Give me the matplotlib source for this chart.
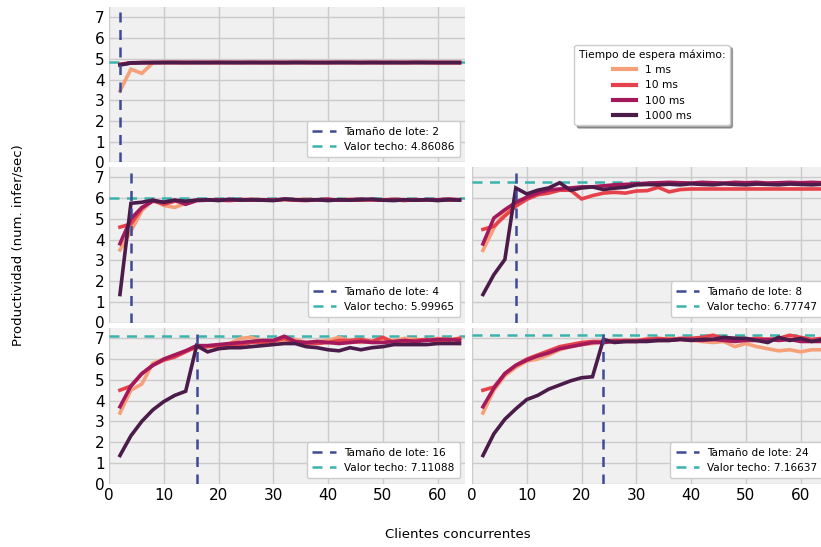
"""Throughput vs concurrent clients for several batch sizes and max wait times."""

import matplotlib

matplotlib.use("Agg")

import matplotlib.pyplot as plt
from matplotlib.lines import Line2D


clients = [2, 4, 6, 8, 10, 12, 14, 16, 18, 20, 22, 24, 26, 28, 30, 32,
           34, 36, 38, 40, 42, 44, 46, 48, 50, 52, 54, 56, 58, 60, 62, 64]

wait_labels = ["1 ms", "10 ms", "100 ms", "1000 ms"]
wait_colors = ["#f6a07a", "#e7424b", "#a3195b", "#4b1b4a"]

batch_sizes = [2, 4, 8, 16, 24]
ceilings = [4.86086, 5.99965, 6.77747, 7.11088, 7.16637]

# batch 2
b2_1ms = [3.45, 4.50, 4.30, 4.80, 4.83, 4.82, 4.83, 4.82, 4.83, 4.82, 4.82, 4.83, 4.82, 4.83, 4.82, 4.82,
          4.83, 4.82, 4.82, 4.83, 4.82, 4.83, 4.82, 4.82, 4.83, 4.82, 4.82, 4.83, 4.82, 4.82, 4.83, 4.82]
b2_10ms = [4.74, 4.81, 4.82, 4.82, 4.83, 4.82, 4.82, 4.83, 4.82, 4.82, 4.83, 4.82, 4.82, 4.82, 4.83, 4.82,
           4.82, 4.83, 4.82, 4.82, 4.82, 4.83, 4.82, 4.82, 4.82, 4.83, 4.82, 4.82, 4.83, 4.82, 4.82, 4.82]
b2_100ms = [4.72, 4.80, 4.82, 4.82, 4.82, 4.83, 4.82, 4.82, 4.82, 4.83, 4.82, 4.82, 4.83, 4.82, 4.82, 4.82,
            4.83, 4.82, 4.82, 4.82, 4.83, 4.82, 4.82, 4.83, 4.82, 4.82, 4.82, 4.83, 4.82, 4.82, 4.82, 4.82]
b2_1000ms = [4.70, 4.80, 4.81, 4.82, 4.82, 4.82, 4.82, 4.82, 4.82, 4.82, 4.82, 4.82, 4.82, 4.82, 4.82, 4.82,
             4.82, 4.82, 4.82, 4.82, 4.82, 4.82, 4.82, 4.82, 4.82, 4.82, 4.82, 4.82, 4.82, 4.82, 4.82, 4.82]

# batch 4
b4_1ms = [3.50, 4.40, 5.40, 5.90, 5.65, 5.55, 5.75, 5.90, 5.92, 5.93, 5.90, 5.92, 5.95, 5.93, 5.90, 5.92,
          5.93, 5.95, 5.92, 5.90, 5.93, 5.95, 5.92, 5.90, 5.93, 5.95, 5.92, 5.93, 5.90, 5.92, 5.95, 5.92]
b4_10ms = [4.60, 4.75, 5.50, 5.90, 5.70, 5.85, 5.80, 5.90, 5.92, 5.90, 5.88, 5.92, 5.93, 5.90, 5.92, 5.93,
           5.90, 5.88, 5.92, 5.95, 5.90, 5.92, 5.90, 5.93, 5.90, 5.92, 5.88, 5.93, 5.90, 5.92, 5.90, 5.92]
b4_100ms = [3.80, 5.00, 5.55, 5.85, 5.80, 5.90, 5.70, 5.88, 5.90, 5.92, 5.90, 5.93, 5.90, 5.92, 5.90, 5.95,
            5.92, 5.90, 5.92, 5.93, 5.90, 5.92, 5.95, 5.92, 5.90, 5.93, 5.92, 5.90, 5.93, 5.92, 5.95, 5.92]
b4_1000ms = [1.35, 5.75, 5.80, 5.90, 5.80, 5.90, 5.85, 5.90, 5.92, 5.88, 5.95, 5.90, 5.92, 5.90, 5.88, 5.95,
             5.92, 5.90, 5.92, 5.88, 5.92, 5.90, 5.92, 5.95, 5.90, 5.88, 5.92, 5.90, 5.92, 5.88, 5.92, 5.90]

# batch 8
b8_1ms = [3.48, 4.55, 5.35, 5.80, 6.04, 6.19, 6.29, 6.39, 6.44, 6.49, 6.54, 6.59, 6.59, 6.62, 6.64, 6.66,
          6.69, 6.69, 6.74, 6.72, 6.74, 6.69, 6.72, 6.74, 6.72, 6.69, 6.74, 6.72, 6.74, 6.72, 6.69, 6.72]
b8_10ms = [4.49, 4.64, 5.14, 5.61, 5.94, 6.16, 6.24, 6.38, 6.38, 5.96, 6.12, 6.24, 6.28, 6.24, 6.34, 6.36,
           6.52, 6.30, 6.41, 6.44, 6.44, 6.44, 6.44, 6.44, 6.44, 6.44, 6.44, 6.44, 6.44, 6.44, 6.44, 6.44]
b8_100ms = [3.79, 5.04, 5.44, 5.79, 6.04, 6.24, 6.39, 6.44, 6.49, 6.54, 6.54, 6.59, 6.64, 6.66, 6.69, 6.72,
            6.74, 6.76, 6.74, 6.72, 6.76, 6.74, 6.72, 6.76, 6.74, 6.76, 6.72, 6.74, 6.76, 6.74, 6.76, 6.74]
b8_1000ms = [1.35, 2.31, 3.04, 6.49, 6.20, 6.38, 6.49, 6.74, 6.38, 6.49, 6.54, 6.41, 6.48, 6.52, 6.64, 6.66,
             6.64, 6.67, 6.64, 6.69, 6.66, 6.64, 6.69, 6.66, 6.64, 6.68, 6.66, 6.64, 6.68, 6.66, 6.64, 6.67]

# batch 16
b16_1ms = [3.40, 4.50, 4.80, 5.80, 6.00, 6.20, 6.40, 6.55, 6.60, 6.65, 6.75, 7.00, 7.05, 6.85, 6.90, 6.90,
           6.95, 6.80, 6.85, 6.90, 7.05, 6.85, 6.80, 6.85, 6.90, 6.90, 7.00, 6.95, 6.90, 7.00, 6.95, 7.00]
b16_10ms = [4.50, 4.70, 5.30, 5.70, 5.95, 6.10, 6.35, 6.60, 6.60, 6.65, 6.65, 6.70, 6.80, 6.80, 6.85, 7.00,
            6.80, 6.75, 6.75, 6.80, 6.90, 6.90, 6.95, 6.85, 7.05, 6.80, 6.85, 6.90, 6.95, 6.80, 6.90, 7.00]
b16_100ms = [3.70, 4.70, 5.30, 5.70, 6.00, 6.20, 6.40, 6.65, 6.65, 6.70, 6.75, 6.80, 6.85, 6.90, 6.90, 7.10,
             6.85, 6.80, 6.85, 6.80, 6.75, 6.80, 6.85, 6.80, 6.80, 6.85, 6.90, 6.85, 6.90, 6.95, 6.95, 6.90]
b16_1000ms = [1.35, 2.30, 3.00, 3.55, 3.95, 4.25, 4.45, 6.65, 6.35, 6.50, 6.55, 6.55, 6.60, 6.65, 6.70, 6.75,
              6.75, 6.60, 6.55, 6.45, 6.40, 6.55, 6.45, 6.55, 6.60, 6.70, 6.70, 6.70, 6.70, 6.75, 6.75, 6.75]

# batch 24
b24_1ms = [3.40, 4.50, 5.20, 5.60, 5.90, 6.00, 6.20, 6.45, 6.60, 6.70, 6.75, 6.85, 6.85, 6.90, 6.85, 7.00,
           6.95, 7.00, 6.95, 6.90, 6.85, 6.80, 6.85, 6.60, 6.75, 6.60, 6.50, 6.40, 6.45, 6.35, 6.45, 6.45]
b24_10ms = [4.50, 4.65, 5.30, 5.70, 6.00, 6.20, 6.40, 6.60, 6.70, 6.80, 6.85, 6.85, 6.90, 6.90, 6.90, 6.95,
            7.00, 6.95, 7.00, 7.00, 7.05, 7.15, 7.00, 7.00, 6.95, 7.00, 6.95, 7.00, 7.15, 7.05, 6.95, 7.00]
b24_100ms = [3.70, 4.60, 5.30, 5.70, 5.95, 6.15, 6.30, 6.50, 6.60, 6.70, 6.80, 6.80, 6.85, 6.85, 6.85, 6.90,
             6.90, 6.90, 6.95, 6.95, 6.90, 6.95, 6.90, 6.85, 6.90, 6.90, 6.95, 6.90, 6.95, 6.85, 6.85, 6.85]
b24_1000ms = [1.35, 2.40, 3.10, 3.60, 4.05, 4.25, 4.55, 4.75, 4.95, 5.10, 5.15, 6.95, 6.80, 6.85, 6.85, 6.85,
              6.90, 6.90, 6.95, 6.90, 6.95, 6.95, 7.05, 7.00, 7.00, 6.90, 6.80, 7.05, 6.90, 7.00, 6.85, 6.95]

series_by_batch = [
    [b2_1ms, b2_10ms, b2_100ms, b2_1000ms],
    [b4_1ms, b4_10ms, b4_100ms, b4_1000ms],
    [b8_1ms, b8_10ms, b8_100ms, b8_1000ms],
    [b16_1ms, b16_10ms, b16_100ms, b16_1000ms],
    [b24_1ms, b24_10ms, b24_100ms, b24_1000ms],
]

W, H = 821, 547
fig = plt.figure(figsize=(W / 100, H / 100), dpi=100)
fig.patch.set_facecolor("white")

# axes boxes in pixels: (left, top, width, height)
col_left = [109, 472]
row_top = [7, 167, 328]
ax_w, ax_h = 356, 155.5
slots = [(0, 0), (1, 0), (1, 1), (2, 0), (2, 1)]

batch_color = "#3f4a94"
ceil_color = "#3bb3ad"

for i, (row, col) in enumerate(slots):
    l, t = col_left[col], row_top[row]
    ax = fig.add_axes([l / W, 1 - (t + ax_h) / H, ax_w / W, ax_h / H])
    ax.set_facecolor("#f0f0f0")
    for s in ax.spines.values():
        s.set_visible(False)
    ax.grid(True, color="#cbcbcb", linewidth=1.0)
    ax.set_axisbelow(True)
    ax.tick_params(length=0, labelsize=11, pad=3)

    for vals, c in zip(series_by_batch[i], wait_colors):
        ax.plot(clients, vals, color=c, linewidth=2.6, solid_joinstyle="miter", zorder=3)

    ax.axvline(batch_sizes[i], color=batch_color, linestyle="--", linewidth=1.8, dashes=(4, 3),
               label=f"Tamaño de lote: {batch_sizes[i]}", zorder=4)
    ax.axhline(ceilings[i], color=ceil_color, linestyle="--", linewidth=1.8, dashes=(4, 3),
               label=f"Valor techo: {ceilings[i]}", zorder=2)

    ax.set_xlim(0, 65)
    ax.set_ylim(0, 7.5)
    ax.set_yticks(range(0, 8))
    ax.set_xticks(range(0, 70, 10))
    if col == 1:
        ax.set_yticklabels([])
    if row < 2:
        ax.set_xticklabels([])
    ax.legend(loc="lower right", fontsize=7.6, frameon=True, facecolor="white", edgecolor="#cccccc",
              framealpha=1.0, fancybox=True, borderpad=0.5, handlelength=2.2)

handles = [Line2D([], [], color=c, linewidth=3) for c in wait_colors]
fig.legend(handles, wait_labels, title="Tiempo de espera máximo:", loc="center",
           bbox_to_anchor=(652 / W, 1 - 85 / H), fontsize=7.7, title_fontsize=7.7,
           frameon=True, shadow=True, fancybox=True, facecolor="white", edgecolor="#cccccc",
           framealpha=1.0, handlelength=2.2)

fig.text(458 / W, 1 - 535 / H, "Clientes concurrentes", ha="center", va="center", fontsize=9.5)
fig.text(18 / W, 1 - 245 / H, "Productividad (num. infer/sec)", ha="center", va="center",
         rotation=90, fontsize=9.5)

fig.savefig("out.png", dpi=100)
